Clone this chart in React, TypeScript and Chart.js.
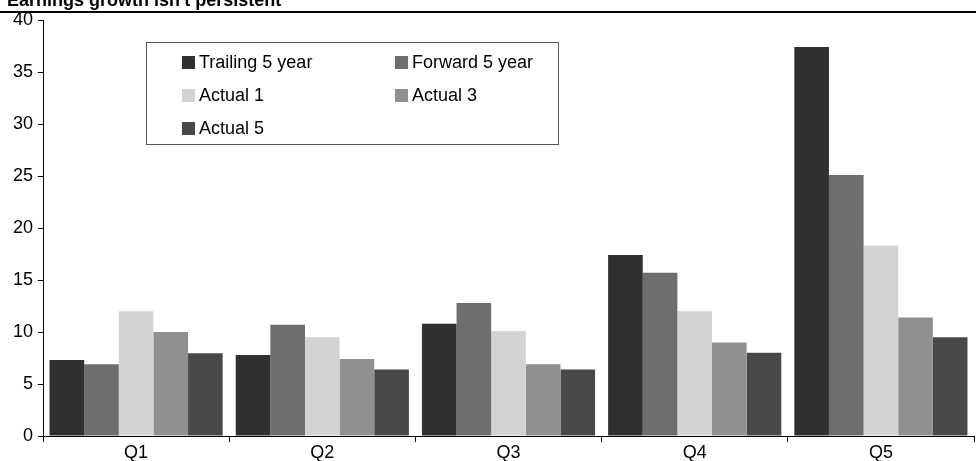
import React, { useEffect, useRef } from "react";
import { Chart, registerables } from "chart.js";

Chart.register(...registerables);

const TITLE = "Earnings growth isn't persistent";
const categories = ["Q1", "Q2", "Q3", "Q4", "Q5"];
const seriesLabels = ["Trailing 5 year", "Forward 5 year", "Actual 1", "Actual 3", "Actual 5"];
const trailing5 = [7.3, 7.8, 10.8, 17.4, 37.4];
const forward5 = [6.9, 10.7, 12.8, 15.7, 25.1];
const actual1 = [12.0, 9.5, 10.1, 12.0, 18.3];
const actual3 = [10.0, 7.4, 6.9, 9.0, 11.4];
const actual5 = [7.95, 6.4, 6.4, 8.0, 9.5];
const seriesColors = ["#303030", "#6e6e6e", "#d3d3d3", "#909090", "#484848"];
const yTicks = [0, 5, 10, 15, 20, 25, 30, 35, 40];

const FONT = "'Liberation Sans', Arial, Helvetica, sans-serif";

const decorPlugin = {
  id: "decor",
  afterDraw(chart: any) {
    const ctx = chart.ctx;
    ctx.save();
    // title (partly cut off at top)
    ctx.fillStyle = "#000";
    ctx.font = `bold 18px ${FONT}`;
    ctx.textAlign = "left";
    ctx.textBaseline = "alphabetic";
    ctx.fillText(TITLE, 7, 6);
    ctx.fillRect(0, 11, chart.width, 2);

    // legend box
    const bx = 146, by = 42, bw = 412, bh = 102;
    ctx.fillStyle = "#fff";
    ctx.fillRect(bx, by, bw, bh);
    ctx.strokeStyle = "#555";
    ctx.lineWidth = 1;
    ctx.strokeRect(bx + 0.5, by + 0.5, bw, bh);

    const cols = [182, 395];
    const rows = [62, 95, 128];
    ctx.font = `18px ${FONT}`;
    ctx.textBaseline = "middle";
    chart.data.datasets.forEach((ds: any, i: number) => {
      const cx = cols[i % 2];
      const cy = rows[Math.floor(i / 2)];
      ctx.fillStyle = ds.backgroundColor;
      ctx.fillRect(cx, cy - 6, 13, 13);
      ctx.fillStyle = "#000";
      ctx.fillText(ds.label, cx + 17, cy + 1);
    });
    ctx.restore();
  },
};

export default function App() {
  const ref = useRef<HTMLCanvasElement | null>(null);
  useEffect(() => {
    document.body.style.margin = "0";
    const values = [trailing5, forward5, actual1, actual3, actual5];
    const chart = new Chart(ref.current as HTMLCanvasElement, {
      type: "bar",
      data: {
        labels: categories,
        datasets: seriesLabels.map((label, i) => ({
          label,
          data: values[i],
          backgroundColor: seriesColors[i],
          borderWidth: 0,
          barPercentage: 1,
          categoryPercentage: 0.93,
        })),
      },
      options: {
        responsive: false,
        animation: false,
        layout: { padding: { top: 20, right: 2, left: 0, bottom: 0 } },
        plugins: { legend: { display: false }, tooltip: { enabled: false }, title: { display: false } },
        scales: {
          x: {
            offset: true,
            grid: { display: true, offset: true, drawOnChartArea: false, drawTicks: true, tickLength: 6, color: "#000" },
            border: { display: true, color: "#000", width: 1 },
            ticks: { color: "#000", font: { family: FONT, size: 18 }, padding: 0, maxRotation: 0 },
            afterFit(scale: any) { scale.height = 25; },
          },
          y: {
            min: 0,
            max: 40,
            afterBuildTicks(scale: any) { scale.ticks = yTicks.map((v) => ({ value: v })); },
            grid: { display: true, drawOnChartArea: false, drawTicks: true, tickLength: 5, color: "#000" },
            border: { display: true, color: "#000", width: 1 },
            ticks: { color: "#000", font: { family: FONT, size: 18 }, padding: 5 },
            afterFit(scale: any) { scale.width = 43; },
          },
        },
      },
      plugins: [decorPlugin],
    });
    return () => chart.destroy();
  }, []);
  return <canvas ref={ref} width={976} height={461} style={{ display: "block" }} />;
}
